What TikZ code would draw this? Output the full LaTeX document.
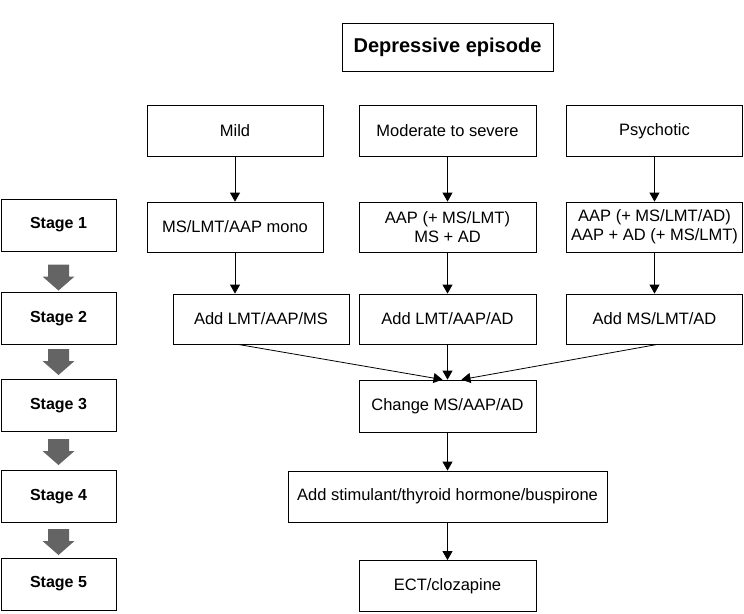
\documentclass[tikz,border=0pt]{standalone}
\usepackage{fontspec}
\setmainfont{Liberation Sans}
\usetikzlibrary{arrows.meta,calc}
\definecolor{stagearrow}{RGB}{100,100,100}
\begin{document}
\begin{tikzpicture}[x=1pt,y=-1pt,
  box/.style={draw,line width=0.8pt,inner sep=0pt,align=center,font=\fontsize{16.5}{19}\selectfont,minimum height=50pt},
  stagebox/.style={draw,line width=0.8pt,inner sep=0pt,align=center,font=\fontsize{16}{19}\selectfont\bfseries,minimum width=115pt,minimum height=52pt},
  conn/.style={line width=0.8pt,-{Triangle[width=10pt,length=9pt]}},
  bigarrow/.style={fill=stagearrow,draw=none}
]
\useasboundingbox (0,0) rectangle (744,613);

% title
\node[draw,line width=0.8pt,inner sep=0pt,minimum width=211pt,minimum height=48pt,font=\fontsize{20}{24}\selectfont\bfseries] (dep) at (447.5,47) {Depressive episode};

% row 1
\node[box,minimum width=176pt,minimum height=51pt] (mild) at (235,131) {Mild};
\node[box,minimum width=177pt,minimum height=51pt] (mod) at (447.5,131) {Moderate to severe};
\node[box,minimum width=176pt,minimum height=51pt] (psy) at (654.5,131) {Psychotic};

% stage 1 row
\node[box,minimum width=176pt] (s1a) at (235,227) {MS/LMT/AAP mono};
\node[box,minimum width=177pt] (s1b) at (447.5,227) {AAP (+ MS/LMT)\\MS + AD};
\node[box,minimum width=176pt] (s1c) at (654.5,227) {AAP (+ MS/LMT/AD)\\AAP + AD (+ MS/LMT)};

% stage 2 row
\node[box,minimum width=176pt] (s2a) at (261,319) {Add LMT/AAP/MS};
\node[box,minimum width=177pt] (s2b) at (447.5,319) {Add LMT/AAP/AD};
\node[box,minimum width=176pt] (s2c) at (654.5,319) {Add MS/LMT/AD};

% later stages
\node[box,minimum width=177pt,minimum height=52pt] (chg) at (447.5,406) {Change MS/AAP/AD};
\node[box,minimum width=319pt,minimum height=51pt] (stim) at (447.5,496.5) {Add stimulant/thyroid hormone/buspirone};
\node[box,minimum width=177pt,minimum height=51pt] (ect) at (447.5,586) {ECT/clozapine};

% stage labels
\node[stagebox] (st1) at (58.5,225) {Stage 1};
\node[stagebox] (st2) at (58.5,318.5) {Stage 2};
\node[stagebox] (st3) at (58.5,405.5) {Stage 3};
\node[stagebox] (st4) at (58.5,496.5) {Stage 4};
\node[stagebox] (st5) at (58.5,584) {Stage 5};

% gray block arrows between stages
\foreach \yc in {277.5,362,452,542}{
  \coordinate (c) at (58.5,\yc);
  \fill[bigarrow] ($(c)+(-10.5,-13)$) -- ($(c)+(10.5,-13)$) -- ($(c)+(10.5,-1)$) -- ($(c)+(16,-1)$) -- ($(c)+(0,13)$) -- ($(c)+(-16,-1)$) -- ($(c)+(-10.5,-1)$) -- cycle;
}

% connectors
\draw[conn] (mild) -- (s1a);
\draw[conn] (mod) -- (s1b);
\draw[conn] (psy) -- (s1c);
\draw[conn] (s1a.south) -- (s1a.south |- s2a.north);
\draw[conn] (s1b) -- (s2b);
\draw[conn] (s1c) -- (s2c);
\draw[conn] ([xshift=-23pt]s2a.south) -- ([xshift=-5pt]chg.north);
\draw[conn] (s2b) -- (chg);
\draw[conn] ([xshift=3pt]s2c.south) -- ([xshift=14pt]chg.north);
\draw[conn] (chg) -- (stim);
\draw[conn] (stim) -- (ect);
\end{tikzpicture}
\end{document}
